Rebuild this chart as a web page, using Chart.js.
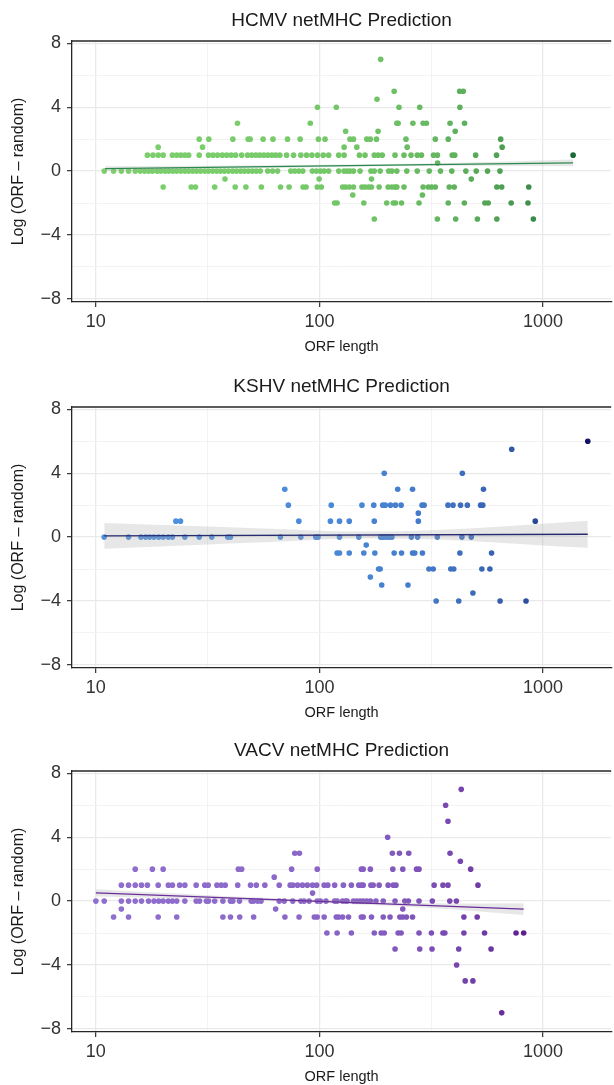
<!DOCTYPE html>
<html><head><meta charset="utf-8">
<script src="https://cdn.jsdelivr.net/npm/chart.js@4.4.0/dist/chart.umd.min.js"></script>
<style>
html,body{margin:0;padding:0;background:#fff;}
#wrap{position:relative;width:614px;height:1085px;overflow:hidden;background:#fff;}
.p{position:absolute;left:0;width:614px;height:360px;}
</style></head><body>
<div id="wrap">
<div class="p" style="top:0px"><canvas id="c1" width="614" height="360"></canvas></div>
<div class="p" style="top:366px"><canvas id="c2" width="614" height="360"></canvas></div>
<div class="p" style="top:730px"><canvas id="c3" width="614" height="360"></canvas></div>
</div>
<script>
// ---------------- data ----------------
const xMajorTicks = [10, 100, 1000];
const xMajorLabels = ["10", "100", "1000"];
const xMinorTicks = [31.62, 316.2];
const yTicks = [-8, -6, -4, -2, 0, 2, 4, 6, 8];
const yLabelTicks = [-8, -4, 0, 4, 8];
const yLabels = ["\u22128", "\u22124", "0", "4", "8"];

// HCMV
const hcmvLen = [
 188,
 216, 424, 440,
 181,
 98, 119, 227, 281, 425,
 43, 91, 222, 225, 262, 291, 301, 384, 446,
 131, 183, 405,
 29, 32, 41, 48, 49, 56, 62, 72, 82, 99, 106, 137, 142, 163, 169, 180, 244, 330, 377, 647,
 19, 30, 129, 147, 247, 657,
 17, 18, 19, 20, 22, 23, 24, 25, 26, 29, 31.9, 33.4, 35, 36.8, 38.5, 40.3, 42.2, 44.9, 47.7, 49.8, 52, 54.1, 56.4, 58.8, 61.3, 63.8, 66.5, 71.3, 76.6, 82.6, 87.6, 92.6, 98.1, 104, 110, 122, 129,
 151, 160, 176, 183, 191, 218, 239, 257, 274, 286, 324, 337, 393, 403, 500, 620, 1364,
 10.9, 12, 13, 14, 15, 15.8, 16.5, 17.2, 17.9, 18.8, 19.5, 20.4, 21.2, 22.1, 23, 24, 25, 26, 27.1, 28.2, 29.4, 30.7, 31.9, 33.3, 34.7, 36.1, 37.6, 39.2, 40.9, 42.6, 44.4, 46.2, 48.1, 50.1, 52.2, 54.4, 58.7, 61.7, 65, 74.5, 77.6, 80.9, 84.3, 93, 96.9, 101, 105, 110, 122, 129,
 133, 137, 142, 152, 170, 176, 187, 204, 211, 222, 246, 274, 310, 348, 391, 452, 503, 565, 642,
 338,
 37.8, 99.7, 171, 478,
 20, 26.7, 27.9, 34, 42, 46.9, 55, 67, 73.2, 84.5, 87.2, 97.8, 102, 127,
 131, 136, 142, 155, 160, 166, 171, 185, 203, 211, 218, 222, 239, 291, 307, 318, 330, 381, 401, 622, 654, 864,
 141, 289,
 117, 120, 158, 200, 214, 219, 233, 279, 377, 445, 550, 569, 721, 857,
 176, 337, 407, 509, 622, 906
];
const hcmvScore = [
 7,
 5, 5, 5,
 4.5,
 4, 4, 4, 4, 4,
 3, 3, 3, 3, 3, 3, 3, 3, 3,
 2.5, 2.5, 2.5,
 2, 2, 2, 2, 2, 2, 2, 2, 2, 2, 2, 2, 2, 2, 2, 2, 2, 2, 2, 2,
 1.5, 1.5, 1.5, 1.5, 1.5, 1.5,
 1, 1, 1, 1, 1, 1, 1, 1, 1, 1, 1, 1, 1, 1, 1, 1, 1, 1, 1, 1, 1, 1, 1, 1, 1, 1, 1, 1, 1, 1, 1, 1, 1, 1, 1, 1, 1,
 1, 1, 1, 1, 1, 1, 1, 1, 1, 1, 1, 1, 1, 1, 1, 1, 1,
 0, 0, 0, 0, 0, 0, 0, 0, 0, 0, 0, 0, 0, 0, 0, 0, 0, 0, 0, 0, 0, 0, 0, 0, 0, 0, 0, 0, 0, 0, 0, 0, 0, 0, 0, 0, 0, 0, 0, 0, 0, 0, 0, 0, 0, 0, 0, 0, 0, 0,
 0, 0, 0, 0, 0, 0, 0, 0, 0, 0, 0, 0, 0, 0, 0, 0, 0, 0, 0,
 0.5,
 -0.5, -0.5, -0.5, -0.5,
 -1, -1, -1, -1, -1, -1, -1, -1, -1, -1, -1, -1, -1, -1,
 -1, -1, -1, -1, -1, -1, -1, -1, -1, -1, -1, -1, -1, -1, -1, -1, -1, -1, -1, -1, -1, -1,
 -1.5, -1.5,
 -2, -2, -2, -2, -2, -2, -2, -2, -2, -2, -2, -2, -2, -2,
 -3, -3, -3, -3, -3, -3
];
const hcmvFitLen = [11, 1364];
const hcmvFitScore = [0.15, 0.52];
const hcmvBandLen = [11, 30, 100, 300, 1364];
const hcmvBandHigh = [0.30, 0.33, 0.40, 0.47, 0.73];
const hcmvBandLow = [0.00, 0.13, 0.24, 0.33, 0.31];

// KSHV
const kshvLen = [
 1587,
 725,
 195, 436,
 70, 224, 261, 542,
 72.6, 113, 155, 175, 192, 197, 208, 219, 232, 288, 294, 376, 396, 428, 459, 526, 538,
 277,
 22.8, 23.9, 80.9, 112, 123, 136, 176, 277, 924,
 10.9, 14, 15.9, 16.7, 17.4, 18.2, 19.1, 20, 21.1, 22, 25, 29, 33, 38.9, 40, 66.9, 82.6, 96.3, 98.6, 123, 150, 188, 193, 199, 205, 211, 258, 275, 337, 434, 478,
 162,
 120, 123, 136, 158, 177, 216, 233, 261, 267, 289, 425, 589,
 184, 187, 309, 323, 387, 399, 533, 579,
 169,
 190, 249,
 486,
 333, 420, 643, 840
];
const kshvScore = [
 6,
 5.5,
 4, 4,
 3, 3, 3, 3,
 2, 2, 2, 2, 2, 2, 2, 2, 2, 2, 2, 2, 2, 2, 2, 2, 2,
 1.5,
 1, 1, 1, 1, 1, 1, 1, 1, 1,
 0, 0, 0, 0, 0, 0, 0, 0, 0, 0, 0, 0, 0, 0, 0, 0, 0, 0, 0, 0, 0, 0, 0, 0, 0, 0, 0, 0, 0, 0, 0,
 -0.5,
 -1, -1, -1, -1, -1, -1, -1, -1, -1, -1, -1, -1,
 -2, -2, -2, -2, -2, -2, -2, -2,
 -2.5,
 -3, -3,
 -3.5,
 -4, -4, -4, -4
];
const kshvFitLen = [10.9, 1587];
const kshvFitScore = [0.08, 0.18];
const kshvBandLen = [10.9, 30, 60, 150, 340, 1000, 1587];
const kshvBandHigh = [0.89, 0.68, 0.53, 0.35, 0.45, 0.84, 1.02];
const kshvBandLow = [-0.73, -0.48, -0.31, -0.09, -0.15, -0.52, -0.66];

// VACV
const vacvLen = [
 431,
 367,
 376,
 202,
 77.6, 81.4, 212, 228, 251, 384,
 427,
 15, 17.9, 20, 43.4, 44.9, 75.1, 97.8, 154, 157, 169, 213, 236, 272, 279, 475,
 62.8,
 13, 14, 15, 16, 17, 19, 21.1, 22, 23.7, 25, 28.1, 30.7, 31.8, 34.8, 36.4, 37.9, 43.1, 49.2, 52.2, 57, 66.1, 74, 76, 79.8, 84, 88.3, 93.2, 97.2, 105, 109, 117, 128, 139, 150, 154, 157, 170, 174, 185, 203, 214, 220, 326, 357, 376, 512,
 93.2,
 10, 10.9, 13, 14, 15, 16, 17.2, 18.2, 19.1, 20, 21.1, 22, 23, 25, 28.1, 29.1, 31.2, 31.9, 34, 37, 40, 41, 43.9, 49.5, 50.8, 53, 54.8, 66.1, 69.6, 76, 82.6, 85.4, 89.9, 97.8, 101, 107, 117, 120, 127, 131, 133, 142, 147, 152, 157, 163, 169, 179, 193, 218, 241, 250, 279, 320, 383, 410,
 13, 63.7, 236,
 12, 14, 19, 23, 37, 40, 44, 50.8, 70.1, 81.1, 94.9, 97.8, 105, 119, 122, 127, 135, 154, 157, 171, 193, 207, 229, 236, 245, 261, 443, 508,
 108, 120, 139, 176, 189, 195, 225, 232, 279, 317, 357, 364, 443, 548, 758, 820,
 218, 281, 319, 420, 586,
 411,
 449, 486,
 654
];
const vacvScore = [
 7,
 6,
 5,
 4,
 3, 3, 3, 3, 3, 3,
 2.5,
 2, 2, 2, 2, 2, 2, 2, 2, 2, 2, 2, 2, 2, 2, 2,
 1.5,
 1, 1, 1, 1, 1, 1, 1, 1, 1, 1, 1, 1, 1, 1, 1, 1, 1, 1, 1, 1, 1, 1, 1, 1, 1, 1, 1, 1, 1, 1, 1, 1, 1, 1, 1, 1, 1, 1, 1, 1, 1, 1, 1, 1, 1, 1,
 0.5,
 0, 0, 0, 0, 0, 0, 0, 0, 0, 0, 0, 0, 0, 0, 0, 0, 0, 0, 0, 0, 0, 0, 0, 0, 0, 0, 0, 0, 0, 0, 0, 0, 0, 0, 0, 0, 0, 0, 0, 0, 0, 0, 0, 0, 0, 0, 0, 0, 0, 0, 0, 0, 0, 0, 0, 0,
 -0.5, -0.5, -0.5,
 -1, -1, -1, -1, -1, -1, -1, -1, -1, -1, -1, -1, -1, -1, -1, -1, -1, -1, -1, -1, -1, -1, -1, -1, -1, -1, -1, -1,
 -2, -2, -2, -2, -2, -2, -2, -2, -2, -2, -2, -2, -2, -2, -2, -2,
 -3, -3, -3, -3, -3,
 -4,
 -5, -5,
 -7
];
const vacvFitLen = [10, 820];
const vacvFitScore = [0.52, -0.50];
const vacvBandLen = [10, 25, 60, 150, 400, 820];
const vacvBandHigh = [0.75, 0.45, 0.19, 0.00, -0.15, -0.13];
const vacvBandLow = [0.29, 0.17, 0.02, -0.21, -0.52, -0.87];

// ---------------- drawing ----------------
const FONT = "'Liberation Sans', Arial, Helvetica, sans-serif";

function hexToRgb(h){ return [parseInt(h.slice(1,3),16), parseInt(h.slice(3,5),16), parseInt(h.slice(5,7),16)]; }
function mix(a, b, t){ const A = hexToRgb(a), B = hexToRgb(b); return 'rgb(' + A.map((v,i)=>Math.round(v + (B[i]-v)*t)).join(',') + ')'; }
function pts(xs, ys){ return xs.map((x, i) => ({x: x, y: ys[i]})); }

const topBorder = {
  id: 'topBorder',
  afterDraw(chart){
    const {ctx, chartArea: a} = chart;
    ctx.save();
    ctx.strokeStyle = '#262626';
    ctx.lineWidth = 1.3;
    ctx.beginPath();
    ctx.moveTo(a.left, a.top);
    ctx.lineTo(a.right, a.top);
    ctx.stroke();
    ctx.restore();
  }
};

function makeChart(id, title, lens, scores, fitL, fitS, bandL, bandHi, bandLo, lowCol, highCol, lineCol){
  const minL = Math.min(...lens), maxL = Math.max(...lens);
  const xGrid = [...xMajorTicks, ...xMinorTicks].sort((a,b)=>a-b);
  new Chart(document.getElementById(id), {
    type: 'scatter',
    data: {
      datasets: [
        { type: 'line', data: pts(fitL, fitS), borderColor: lineCol, borderWidth: 1.3, pointRadius: 0, fill: false, order: 0 },
        { type: 'line', data: pts(bandL, bandLo), borderWidth: 0, borderColor: 'rgba(0,0,0,0)', pointRadius: 0, fill: false, cubicInterpolationMode: 'monotone', order: 1 },
        { type: 'line', data: pts(bandL, bandHi), borderWidth: 0, borderColor: 'rgba(0,0,0,0)', pointRadius: 0, fill: '-1', backgroundColor: 'rgba(170,170,170,0.28)', cubicInterpolationMode: 'monotone', order: 1 },
        { data: pts(lens, scores), pointRadius: 2.8, pointHoverRadius: 2.8, borderWidth: 0, order: 2,
          backgroundColor: (c) => { const r = c.raw; if (!r) return lowCol; return mix(lowCol, highCol, (r.x - minL) / (maxL - minL)); } }
      ]
    },
    options: {
      responsive: false,
      animation: false,
      events: [],
      layout: { padding: 0 },
      plugins: {
        legend: { display: false },
        tooltip: { enabled: false },
        title: { display: true, text: title, fullSize: false, color: '#1a1a1a',
                 font: { family: FONT, size: 19, weight: 'normal' }, padding: { top: 9, bottom: 9.2 } }
      },
      scales: {
        x: {
          type: 'logarithmic', min: 7.82, max: 2020,
          afterBuildTicks: (s) => { s.ticks = xGrid.map(v => ({ value: v })); },
          afterFit: (s) => { s.height = 58; },
          ticks: { autoSkip: false, maxRotation: 0, minRotation: 0, padding: 4, color: '#333333',
                   font: { family: FONT, size: 18 },
                   callback: (v) => { const i = xMajorTicks.indexOf(v); return i >= 0 ? xMajorLabels[i] : ''; } },
          grid: { drawTicks: true, tickLength: 5,
                  color: (c) => (c.tick && xMajorTicks.includes(c.tick.value)) ? '#e9e9e9' : '#f2f2f2',
                  lineWidth: (c) => (c.tick && xMajorTicks.includes(c.tick.value)) ? 1.3 : 0.9,
                  tickColor: (c) => (c.tick && xMajorTicks.includes(c.tick.value)) ? '#333333' : 'rgba(0,0,0,0)',
                  tickWidth: 1.2 },
          border: { display: true, color: '#262626', width: 1.3 },
          title: { display: true, text: 'ORF length', color: '#1a1a1a', font: { family: FONT, size: 14.5 }, padding: { top: 0, bottom: 4.5 } }
        },
        y: {
          min: -8.2, max: 8.15,
          afterBuildTicks: (s) => { s.ticks = yTicks.map(v => ({ value: v })); },
          afterFit: (s) => { s.width = 72; },
          ticks: { autoSkip: false, padding: 6, color: '#333333', font: { family: FONT, size: 18 },
                   callback: (v) => { const i = yLabelTicks.indexOf(v); return i >= 0 ? yLabels[i] : ''; } },
          grid: { drawTicks: true, tickLength: 5,
                  color: (c) => (c.tick && yLabelTicks.includes(c.tick.value)) ? '#e9e9e9' : '#f2f2f2',
                  lineWidth: (c) => (c.tick && yLabelTicks.includes(c.tick.value)) ? 1.3 : 0.9,
                  tickColor: (c) => (c.tick && yLabelTicks.includes(c.tick.value)) ? '#333333' : 'rgba(0,0,0,0)',
                  tickWidth: 1.2 },
          border: { display: true, color: '#262626', width: 1.3 },
          title: { display: true, text: 'Log (ORF \u2013 random)', color: '#1a1a1a', font: { family: FONT, size: 16 }, padding: { top: 9, bottom: 0 } }
        }
      }
    },
    plugins: [topBorder]
  });
}

makeChart('c1', 'HCMV netMHC Prediction', hcmvLen, hcmvScore, hcmvFitLen, hcmvFitScore, hcmvBandLen, hcmvBandHigh, hcmvBandLow, '#7ccf6c', '#1a6a38', '#2a8a4e');
makeChart('c2', 'KSHV netMHC Prediction', kshvLen, kshvScore, kshvFitLen, kshvFitScore, kshvBandLen, kshvBandHigh, kshvBandLow, '#4e90e0', '#111462', '#272b70');
makeChart('c3', 'VACV netMHC Prediction', vacvLen, vacvScore, vacvFitLen, vacvFitScore, vacvBandLen, vacvBandHigh, vacvBandLow, '#8f6ecd', '#5e1e90', '#6a2c9e');
</script>
</body></html>
